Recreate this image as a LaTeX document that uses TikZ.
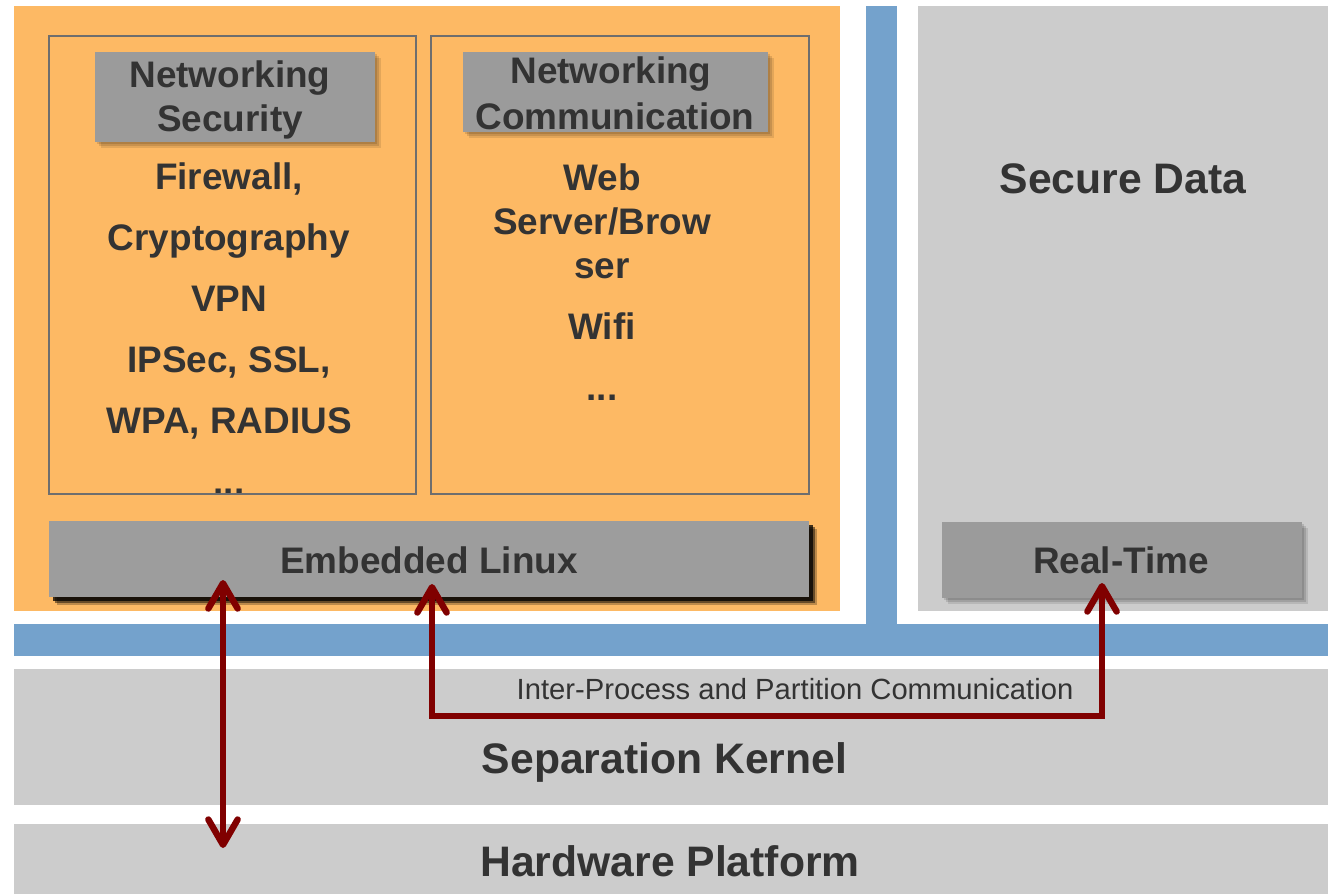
\documentclass[tikz,border=0pt]{standalone}
\usepackage{fontspec}
\setmainfont{Liberation Sans}
\usetikzlibrary{fit,shadows,arrows.meta}
\definecolor{org}{HTML}{FDB964}
\definecolor{blu}{HTML}{74A2CC}
\definecolor{lgr}{HTML}{CCCCCC}
\definecolor{mgr}{HTML}{9B9B9B}
\definecolor{txt}{HTML}{333333}
\definecolor{dred}{HTML}{800000}
\definecolor{frm}{HTML}{6E6E6E}
\begin{document}
\begin{tikzpicture}[x=0.75pt,y=-0.75pt,
  region/.style={fit={#1}, inner sep=0pt, outer sep=0pt, draw=none},
  bigtxt/.style={text=txt, font=\fontsize{32}{38}\selectfont\bfseries, anchor=base, inner sep=0pt},
  midtxt/.style={text=txt, font=\fontsize{27.7}{33}\selectfont\bfseries, anchor=base, inner sep=0pt},
  smalltxt/.style={text=txt, font=\fontsize{21.9}{26}\selectfont, anchor=base, inner sep=0pt},
  softshadow/.style={
    drop shadow={fill=black, opacity=0.10, shadow xshift=4.5pt, shadow yshift=-4.5pt},
    drop shadow={fill=black, opacity=0.12, shadow xshift=3pt, shadow yshift=-3pt},
    drop shadow={fill=black, opacity=0.12, shadow xshift=1.8pt, shadow yshift=-1.8pt}},
  darkshadow/.style={
    drop shadow={fill=black, opacity=0.25, shadow xshift=6pt, shadow yshift=-6pt},
    drop shadow={fill=black, opacity=0.45, shadow xshift=4.5pt, shadow yshift=-4.5pt},
    drop shadow={fill=black, opacity=0.75, shadow xshift=3pt, shadow yshift=-3pt}},
  hdrbox/.style={region={#1}, fill=mgr, softshadow},
  framebox/.style={region={#1}, draw=frm, line width=1.1pt},
  arr/.style={draw=dred, line width=4.8pt, line join=miter,
    arrows={Straight Barb[length=19pt,width=22pt,round]-Straight Barb[length=19pt,width=22pt,round]}}
]
\useasboundingbox (0,0) rectangle (1332,894);
\fill[white] (0,0) rectangle (1332,894);

% regions
\node[region={(14,6)(840,611)}, fill=org] (orange) {};
\node[region={(918,6)(1328,611)}, fill=lgr] (secure) {};
\node[region={(866,6)(897,640)}, fill=blu] (bluev) {};
\node[region={(14,624)(1328,656)}, fill=blu] (blueh) {};
\node[region={(14,669)(1328,805)}, fill=lgr] (kernel) {};
\node[region={(14,824)(1328,894)}, fill=lgr] (hw) {};

% text of the left column
\node[midtxt] (t1) at (229,189) {Firewall,};
\node[midtxt] (t2) at (229,250) {Cryptography};
\node[midtxt] (t3) at (229,311) {VPN};
\node[midtxt] (t4) at (229,372) {IPSec, SSL,};
\node[midtxt] (t5) at (229,433) {WPA, RADIUS};
\node[midtxt] (t6) at (229,494) {...};
% text of the right column
\node[midtxt] (u1) at (602,190) {Web};
\node[midtxt] (u2) at (602,234) {Server/Brow};
\node[midtxt] (u3) at (602,278) {ser};
\node[midtxt] (u4) at (602,339) {Wifi};
\node[midtxt] (u5) at (602,400) {...};

% frames
\node[framebox={(49,36)(416,494)}] (secframe) {};
\node[framebox={(431,36)(809,494)}] (comframe) {};

% headers
\node[hdrbox={(95,52)(375,142)}] (sechdr) {};
\node[midtxt] (sh1) at (230,87) {Networking};
\node[midtxt] (sh2) at (230,131) {Security};
\node[hdrbox={(463,52)(768,132)}] (comhdr) {};
\node[midtxt] (ch1) at (611,83) {Networking};
\node[midtxt] (ch2) at (615,129) {Communication};

% OS boxes
\node[region={(49,521)(809,597)}, fill=mgr!98!white, darkshadow] (linux) {};
\node[midtxt] (linuxtxt) at (429,573) {Embedded Linux};
\node[region={(942,522)(1302,598)}, fill=mgr, softshadow] (rt) {};
\node[midtxt] (rttxt) at (1121,573) {Real-Time};

% big labels
\node[bigtxt] (securetxt) at (1123,193) {Secure Data};
\node[bigtxt] (kerneltxt) at (664.5,773) {Separation Kernel};
\node[bigtxt] (hwtxt) at (670,876) {Hardware Platform};
\node[smalltxt] (ipc) at (795,699) {Inter-Process and Partition Communication};

% connector end points
\coordinate (linuxA) at (223,580);
\coordinate (hwA) at (223,848);
\coordinate (linuxB) at (432,584);
\coordinate (cornerL) at (432,716);
\coordinate (cornerR) at (1102,716);
\coordinate (rtA) at (1102,583);

\draw[arr] (linuxA) -- (hwA);
\draw[arr] (linuxB) -- (cornerL) -- (cornerR) -- (rtA);
\end{tikzpicture}
\end{document}
